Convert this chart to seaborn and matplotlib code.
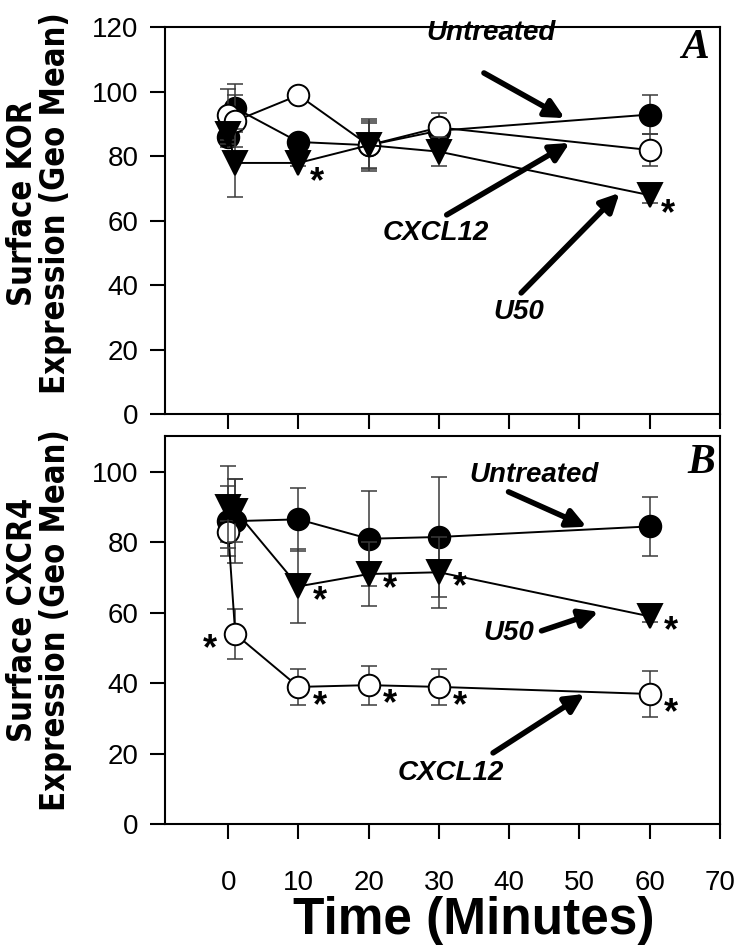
import matplotlib
matplotlib.use("Agg")
import matplotlib.pyplot as plt
import seaborn as sns

# ---------------- data ----------------
time = [0, 1, 10, 20, 30, 60]
x_ticks = [0, 10, 20, 30, 40, 50, 60, 70]
ya_ticks = [0, 20, 40, 60, 80, 100, 120]
yb_ticks = [0, 20, 40, 60, 80, 100]

kor_untreated = [86, 95, 84.5, 83.5, 88, 93]
kor_untreated_err = [3, 7.5, 1, 8, 3, 6]
kor_cxcl12 = [93, 91, 99, 83.5, 89, 82]
kor_cxcl12_err = [8, 8, 1, 7.5, 4.5, 5]
kor_u50 = [87, 78, 78, 83.5, 81.5, 68]
kor_u50_err = [3, 10.5, 1, 7, 4.5, 2.5]
kor_u50_sig = [10, 60]

cxcr4_untreated = [86, 86, 86.5, 81, 81.5, 84.5]
cxcr4_untreated_err = [10, 12, 9, 13.4, 17, 8.3]
cxcr4_cxcl12 = [83, 54, 39, 39.5, 39, 37]
cxcr4_cxcl12_err = [3, 7, 5, 5.5, 5, 6.5]
cxcr4_u50 = [90, 89, 67.5, 71, 71.5, 59]
cxcr4_u50_err = [11.5, 9, 10.5, 9, 10, 1.5]
cxcr4_cxcl12_sig = [10, 20, 30, 60]
cxcr4_u50_sig = [10, 20, 30, 60]

# ---------------- style ----------------
sns.set_style("ticks")
plt.rcParams["font.family"] = ["Liberation Sans", "DejaVu Sans"]
plt.rcParams["text.color"] = "black"
plt.rcParams["axes.labelcolor"] = "black"
plt.rcParams["xtick.color"] = "black"
plt.rcParams["ytick.color"] = "black"

fig = plt.figure(figsize=(7.5, 9.48), dpi=100)
axA = fig.add_axes([0.22, 0.5628, 0.74, 0.4082])
axB = fig.add_axes([0.22, 0.1303, 0.74, 0.4093])

BOLD_IT = dict(fontsize=20, fontweight="bold", fontstyle="italic",
               family=["Liberation Sans", "DejaVu Sans"], color="black")
ARROW = dict(arrowstyle="-|>", lw=4, color="black", mutation_scale=28,
             shrinkA=0, shrinkB=0)
YLAB = dict(fontsize=23.5, fontweight="bold", linespacing=1.0,
            family="DejaVu Sans", fontstretch="condensed", color="black")


def draw_series(ax, vals, errs, marker, face, ms, z):
    ax.errorbar(time, vals, yerr=errs, fmt="none", ecolor="#3a3a3a",
                elinewidth=1.1, capsize=6, capthick=1.1, zorder=z)
    sns.lineplot(x=time, y=vals, ax=ax, color="black", lw=1.4,
                 marker=marker, markersize=ms, markerfacecolor=face,
                 markeredgecolor="black", markeredgewidth=1.4, zorder=z + 0.5,
                 legend=False)


def style_axis(ax, yticks, ylim, show_xlabels):
    ax.set_xlim(-9, 70)
    ax.set_ylim(*ylim)
    ax.set_xticks(x_ticks)
    ax.set_yticks(yticks)
    for s in ax.spines.values():
        s.set_visible(True)
        s.set_linewidth(1.5)
        s.set_color("black")
    ax.tick_params(axis="both", direction="out", length=11, width=1.5,
                   labelsize=20, colors="black")
    ax.tick_params(axis="y", pad=8)
    ax.tick_params(axis="x", pad=22, labelbottom=show_xlabels)
    ax.set_xlabel("")


def stars(ax, sig_times, vals, dx, dy):
    for t in sig_times:
        v = vals[time.index(t)]
        ax.text(t + dx, v + dy, "*", fontsize=26, fontweight="bold",
                ha="center", va="center", color="black", zorder=10)


# ---------------- Panel A ----------------
draw_series(axA, kor_untreated, kor_untreated_err, "o", "black", 15.5, 2)
draw_series(axA, kor_cxcl12, kor_cxcl12_err, "o", "white", 15.5, 3)
draw_series(axA, kor_u50, kor_u50_err, "v", "black", 17, 4)
style_axis(axA, ya_ticks, (0, 120), False)
stars(axA, kor_u50_sig, kor_u50, 2.6, -6)

axA.set_ylabel("Surface KOR\nExpression (Geo Mean)", **YLAB)
axA.yaxis.set_label_coords(-0.168, 0.545)

axA.text(37.4, 118.3, "Untreated", ha="center", va="center", **BOLD_IT)
axA.annotate("", xy=(47.9, 91.9), xytext=(36.4, 105.9), arrowprops=ARROW)
axA.text(29.6, 56.3, "CXCL12", ha="center", va="center", **BOLD_IT)
axA.annotate("", xy=(48.6, 84.2), xytext=(31.1, 61.9), arrowprops=ARROW)
axA.text(41.3, 31.8, "U50", ha="center", va="center", **BOLD_IT)
axA.annotate("", xy=(55.7, 68.7), xytext=(41.7, 37.7), arrowprops=ARROW)
axA.text(66.4, 113.6, "A", ha="center", va="center", fontsize=30,
         fontweight="bold", fontstyle="italic", family="Liberation Serif")

# ---------------- Panel B ----------------
draw_series(axB, cxcr4_untreated, cxcr4_untreated_err, "o", "black", 15.5, 2)
draw_series(axB, cxcr4_cxcl12, cxcr4_cxcl12_err, "o", "white", 15.5, 3)
draw_series(axB, cxcr4_u50, cxcr4_u50_err, "v", "black", 17, 4)
style_axis(axB, yb_ticks, (0, 110), True)
stars(axB, cxcr4_u50_sig, cxcr4_u50, 3.0, -4.3)
stars(axB, cxcr4_cxcl12_sig, cxcr4_cxcl12, 3.0, -5.5)
stars(axB, [1], cxcr4_cxcl12, -3.6, -4.5)

axB.set_ylabel("Surface CXCR4\nExpression (Geo Mean)", **YLAB)
axB.yaxis.set_label_coords(-0.168, 0.527)
axB.set_xlabel("Time (Minutes)", fontsize=37, fontweight="bold", color="black")
axB.xaxis.set_label_coords(0.557, -0.185)

axB.text(43.5, 99.1, "Untreated", ha="center", va="center", **BOLD_IT)
axB.annotate("", xy=(51.0, 84.4), xytext=(39.9, 94.3), arrowprops=ARROW)
axB.text(40.0, 54.3, "U50", ha="center", va="center", **BOLD_IT)
axB.annotate("", xy=(52.7, 60.3), xytext=(44.6, 54.9), arrowprops=ARROW)
axB.text(31.7, 14.6, "CXCL12", ha="center", va="center", **BOLD_IT)
axB.annotate("", xy=(50.7, 37.0), xytext=(37.7, 20.3), arrowprops=ARROW)
axB.text(67.3, 102.6, "B", ha="center", va="center", fontsize=30,
         fontweight="bold", fontstyle="italic", family="Liberation Serif")

fig.savefig("out.png", dpi=100, facecolor="white")
